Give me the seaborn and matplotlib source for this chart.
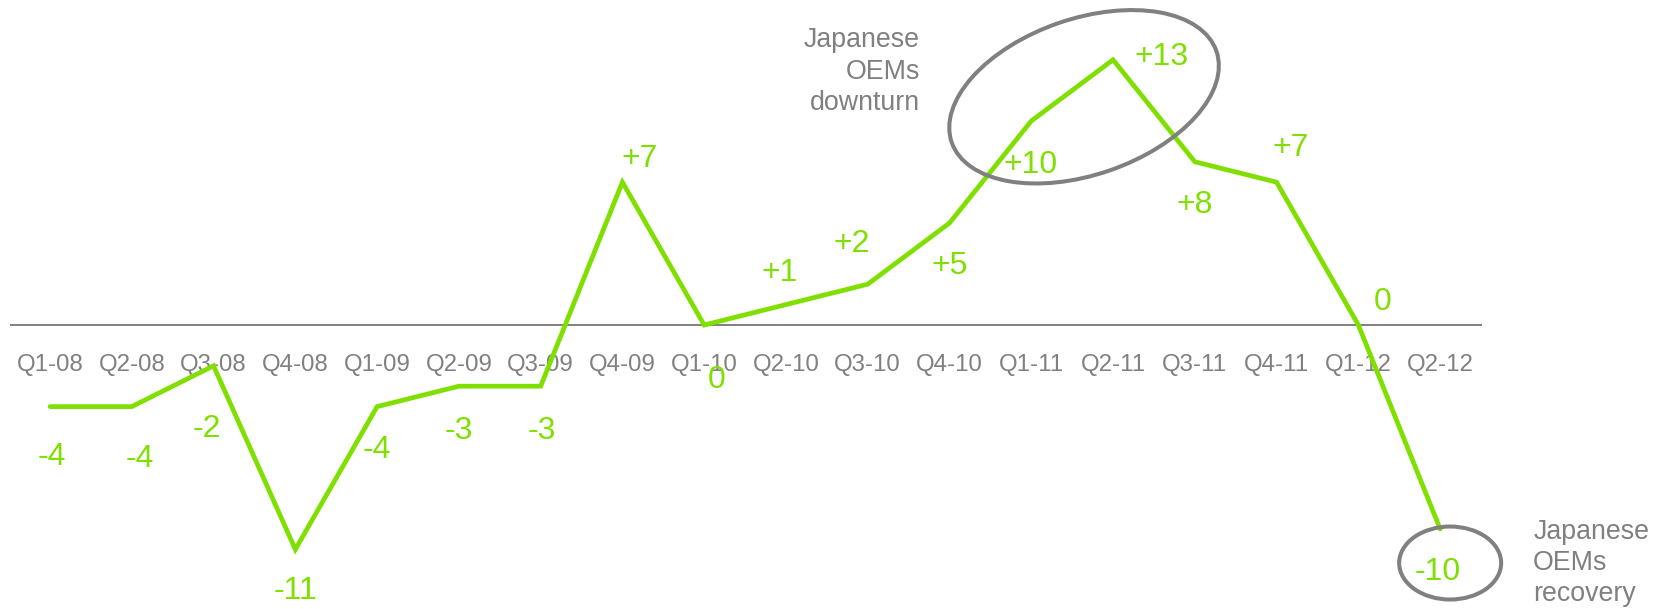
import matplotlib
matplotlib.use("Agg")
import matplotlib.pyplot as plt
from matplotlib.patches import Ellipse
from matplotlib.transforms import Affine2D, ScaledTranslation
import seaborn as sns

# Quarterly change figures
quarters = ["Q1-08", "Q2-08", "Q3-08", "Q4-08", "Q1-09", "Q2-09", "Q3-09", "Q4-09",
            "Q1-10", "Q2-10", "Q3-10", "Q4-10", "Q1-11", "Q2-11", "Q3-11", "Q4-11",
            "Q1-12", "Q2-12"]
values = [-4, -4, -2, -11, -4, -3, -3, 7, 0, 1, 2, 5, 10, 13, 8, 7, 0, -10]

# Where each value label sits relative to its point (pixels, y up)
label_offsets = [(2, -50), (8, -52), (-7, -63), (0, -42), (0, -43), (0, -45), (1, -45),
                 (17, 23), (12, -55), (-6, 32), (-16, 40), (0, -43), (-1, -44), (49, 3),
                 (0, -43), (14, 34), (24, 23), (-2, -43)]

note_downturn = "Japanese\nOEMs\ndownturn"
note_recovery = "Japanese\nOEMs\nrecovery"

GREEN = "#7FE000"
GREY = "#808080"

sns.set_theme(style="white")
plt.rcParams["font.family"] = ["Liberation Sans", "DejaVu Sans"]

fig = plt.figure(figsize=(16.59, 6.09), dpi=100)
ax = fig.add_axes([0.00663, 0.0, 0.8861, 1.0])

x = list(range(len(quarters)))
sns.lineplot(x=x, y=values, ax=ax, color=GREEN, linewidth=3.4, zorder=3,
             solid_capstyle="round", solid_joinstyle="miter")

ax.set_xlim(-0.477, 17.5)
ax.set_ylim(-13.92, 15.93)

# Zero baseline with quarter labels beneath it
for side in ["top", "right", "left"]:
    ax.spines[side].set_visible(False)
ax.spines["bottom"].set_position(("data", 0))
ax.spines["bottom"].set_color(GREY)
ax.spines["bottom"].set_linewidth(1.4)
ax.spines["bottom"].set_zorder(1)
ax.set_xticks(x)
ax.set_xticklabels(quarters)
ax.set_yticks([])
ax.tick_params(axis="x", length=0, pad=21, labelsize=17.3, labelcolor=GREY)
ax.set_xlabel("")
ax.set_ylabel("")

# Value labels
for xi, v, (dx, dy) in zip(x, values, label_offsets):
    txt = "0" if v == 0 else f"{v:+d}"
    ax.annotate(txt, xy=(xi, v), xytext=(dx, dy), textcoords="offset pixels",
                ha="center", va="center", fontsize=23, color=GREEN,
                annotation_clip=False, zorder=4)


def ring(xi, yi, dx, dy, w, h, angle):
    tr = Affine2D().translate(dx, dy) + ScaledTranslation(xi, yi, ax.transData)
    e = Ellipse((0, 0), w, h, angle=angle, fill=False, edgecolor=GREY,
                linewidth=2.9, transform=tr, clip_on=False, zorder=5)
    ax.add_artist(e)


# Downturn highlight around the 2011 peak
i_peak = quarters.index("Q2-11")
ring(i_peak, values[i_peak], -29, -37, 280, 156, 19)
ax.annotate(note_downturn, xy=(i_peak, values[i_peak]), xytext=(-193, -12),
            textcoords="offset pixels", ha="right", va="center", fontsize=19.3,
            color=GREY, linespacing=1.27, annotation_clip=False)

# Recovery highlight around the last quarter
i_last = quarters.index("Q2-12")
ring(i_last, values[i_last], 10, -34, 102, 73, 0)
ax.annotate(note_recovery, xy=(i_last, values[i_last]), xytext=(93, -34),
            textcoords="offset pixels", ha="left", va="center", fontsize=19.3,
            color=GREY, linespacing=1.27, annotation_clip=False)

fig.savefig("out.png", dpi=100, facecolor="white")
